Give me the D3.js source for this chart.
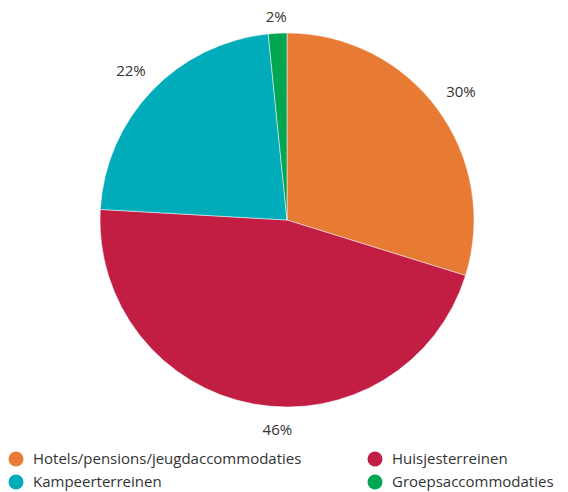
<!DOCTYPE html>
<html>
<head>
<meta charset="utf-8">
<script src="https://cdn.jsdelivr.net/npm/d3@7"></script>
<style>
  body { margin: 0; background: #fff; }
  text { font-family: "Open Sans", sans-serif; fill: #333; }
</style>
</head>
<body>
<svg width="568" height="492"></svg>
<script>
// categories + shares (percent), clockwise from 12 o'clock
var categories = ["Hotels/pensions/jeugdaccommodaties", "Huisjesterreinen", "Kampeerterreinen", "Groepsaccommodaties"];
var values = [29.8, 46.1, 22.5, 1.6];
var labels = ["30%", "46%", "22%", "2%"];
var colors = ["#E87B33", "#C21E44", "#00ACBA", "#00A651"];

var width = 568, height = 492,
    cx = 287, cy = 220,
    radius = 187;

var svg = d3.select("svg");

var data = categories.map((c, i) => ({name: c, value: values[i], label: labels[i], color: colors[i]}));

var pie = d3.pie().sort(null).value(d => d.value);
var arc = d3.arc().innerRadius(0).outerRadius(radius);
var labelArc = d3.arc().innerRadius(216).outerRadius(216);

var g = svg.append("g").attr("transform", "translate(" + cx + "," + cy + ")");

var arcs = pie(data);

g.selectAll("path")
  .data(arcs)
  .enter().append("path")
    .attr("d", arc)
    .attr("fill", d => d.data.color)
    .attr("stroke", "#fff")
    .attr("stroke-width", 0.5);

// label placement roughly like the original (big bottom slice label sits more centred)
g.selectAll("text.pct")
  .data(arcs)
  .enter().append("text")
    .attr("class", "pct")
    .attr("transform", function(d) {
      var c = labelArc.centroid(d);
      if (d.data.value > 40) { c[0] = c[0] * 0.25; c[1] = c[1] - 3; }
      if (d.data.value < 5) c[1] = c[1] + 12;
      return "translate(" + c + ")";
    })
    .attr("text-anchor", "middle")
    .attr("dy", "0.35em")
    .style("font-size", "15px")
    .text(d => d.data.label);

// legend, two columns
var legend = svg.append("g").attr("class", "legend");
var legX = [16, 375], legY = [459, 482];

var item = legend.selectAll("g")
  .data(data)
  .enter().append("g")
    .attr("transform", (d, i) => "translate(" + legX[i % 2] + "," + legY[Math.floor(i / 2)] + ")");

item.append("circle")
  .attr("r", 7.5)
  .attr("fill", d => d.color);

item.append("text")
  .attr("x", 17)
  .attr("dy", "0.35em")
  .style("font-size", "15px")
  .text(d => d.name);
</script>
</body>
</html>
